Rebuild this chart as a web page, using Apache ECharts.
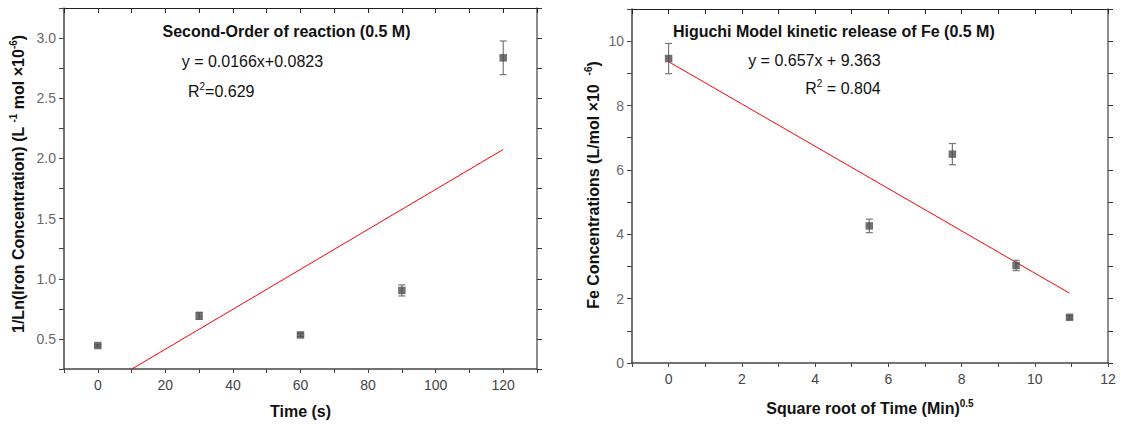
<!DOCTYPE html>
<html>
<head>
<meta charset="utf-8">
<title>Iron kinetics</title>
<script src="https://cdn.jsdelivr.net/npm/echarts@6/dist/echarts.min.js"></script>
<style>
  html, body { margin: 0; padding: 0; background: #fff; }
  #chart { width: 1121px; height: 425px; }
</style>
</head>
<body>
<div id="chart"></div>
<script>
// Second-order plot: time (s) vs 1/Ln(iron concentration)
const timeSec = [0, 30, 60, 90, 120];
const invLnIron = [0.445, 0.692, 0.533, 0.903, 2.836];
const invLnIronErr = [0.010, 0.030, 0.014, 0.046, 0.140];
const secondOrderSlope = 0.0166;
const secondOrderIntercept = 0.0823;
const secondOrderR2 = '0.629';

// Higuchi plot: square root of time (min^0.5) vs Fe concentration
const sqrtTimeMin = [0, 5.48, 7.75, 9.49, 10.95];
const feConc = [9.46, 4.26, 6.49, 3.03, 1.42];
const feConcErr = [0.47, 0.21, 0.33, 0.16, 0.05];
const higuchiSlope = -0.657;
const higuchiIntercept = 9.363;
const higuchiR2 = '0.804';

// Tick label sets
const leftXLabels = [0, 20, 40, 60, 80, 100, 120];
const leftYLabels = [0.5, 1.0, 1.5, 2.0, 2.5, 3.0];
const rightXLabels = [0, 2, 4, 6, 8, 10, 12];
const rightYLabels = [0, 2, 4, 6, 8, 10];

const FONT = '"Liberation Sans", Arial, sans-serif';
const AXIS_COLOR = '#444';

function pick(list, digits) {
  return function (v) {
    for (const t of list) {
      if (Math.abs(v - t) < 1e-6) return digits ? t.toFixed(digits) : String(t);
    }
    return '';
  };
}

function bottomAxis(grid, min, max, interval, labels) {
  return {
    type: 'value', gridIndex: grid, position: 'bottom',
    min: min, max: max, interval: interval,
    axisLine: { onZero: false, lineStyle: { color: AXIS_COLOR, width: 1.5 } },
    axisTick: { inside: false, length: 4, lineStyle: { color: AXIS_COLOR, width: 1 } },
    axisLabel: { formatter: pick(labels, 0), color: '#444', fontSize: 14, fontFamily: FONT, margin: 9 },
    splitLine: { show: false }
  };
}

function topAxis(grid, min, max, interval) {
  return {
    type: 'value', gridIndex: grid, position: 'top',
    min: min, max: max, interval: interval,
    axisLine: { onZero: false, lineStyle: { color: '#222', width: 1 } },
    axisTick: { inside: true, length: 5, lineStyle: { color: '#222', width: 1 } },
    axisLabel: { show: false },
    splitLine: { show: false }
  };
}

function leftAxis(grid, min, max, interval, labels, digits) {
  return {
    type: 'value', gridIndex: grid, position: 'left',
    min: min, max: max, interval: interval,
    axisLine: { show: true, onZero: false, lineStyle: { color: AXIS_COLOR, width: 1.5 } },
    axisTick: { show: true, inside: false, length: 5, lineStyle: { color: AXIS_COLOR, width: 1 } },
    axisLabel: { formatter: pick(labels, digits), color: '#6a6a6a', fontSize: 14, fontFamily: FONT, margin: 8 },
    splitLine: { show: false }
  };
}

function rightAxis(grid, min, max, interval) {
  return {
    type: 'value', gridIndex: grid, position: 'right',
    min: min, max: max, interval: interval,
    axisLine: { show: true, onZero: false, lineStyle: { color: '#666', width: 1.5 } },
    axisTick: { show: true, inside: false, length: 5, lineStyle: { color: '#333', width: 1 } },
    axisLabel: { show: false },
    splitLine: { show: false }
  };
}

function zip(xs, ys) { return xs.map((x, i) => [x, ys[i]]); }

function errorBars(xAxisIndex, yAxisIndex, xs, ys, errs) {
  return {
    type: 'custom', xAxisIndex: xAxisIndex, yAxisIndex: yAxisIndex, z: 3,
    data: xs.map((x, i) => [x, ys[i] - errs[i], ys[i] + errs[i]]),
    renderItem: function (params, api) {
      const lo = api.coord([api.value(0), api.value(1)]);
      const hi = api.coord([api.value(0), api.value(2)]);
      const half = 3.5;
      const style = { stroke: '#777', lineWidth: 1.2, fill: null };
      return {
        type: 'group',
        children: [
          { type: 'line', shape: { x1: lo[0], y1: lo[1], x2: hi[0], y2: hi[1] }, style: style },
          { type: 'line', shape: { x1: lo[0] - half, y1: lo[1], x2: lo[0] + half, y2: lo[1] }, style: style },
          { type: 'line', shape: { x1: hi[0] - half, y1: hi[1], x2: hi[0] + half, y2: hi[1] }, style: style }
        ]
      };
    }
  };
}

function points(xAxisIndex, yAxisIndex, xs, ys) {
  return {
    type: 'scatter', xAxisIndex: xAxisIndex, yAxisIndex: yAxisIndex, z: 4,
    symbol: 'rect', symbolSize: 7.5,
    itemStyle: { color: '#4d4d4d' },
    data: zip(xs, ys)
  };
}

function fitLine(xAxisIndex, yAxisIndex, x0, x1, slope, intercept) {
  return {
    type: 'line', xAxisIndex: xAxisIndex, yAxisIndex: yAxisIndex, z: 2,
    clip: true, showSymbol: false, symbol: 'none', silent: true,
    lineStyle: { color: '#ff0000', width: 1 },
    data: [[x0, slope * x0 + intercept], [x1, slope * x1 + intercept]]
  };
}

const textBase = { fontFamily: FONT, fill: '#111' };
const supRich = {
  n: { fontFamily: FONT, fontSize: 16, fill: '#111', lineHeight: 20 },
  sup: { fontFamily: FONT, fontSize: 10, fill: '#111', verticalAlign: 'top', lineHeight: 20, padding: [0, 0, 8, 0] },
  b: { fontFamily: FONT, fontSize: 16, fontWeight: 'bold', fill: '#111', lineHeight: 20 },
  bsup: { fontFamily: FONT, fontSize: 10, fontWeight: 'bold', fill: '#111', verticalAlign: 'top', lineHeight: 20, padding: [0, 0, 8, 0] }
};

function label(x, y, text, align, bold) {
  return {
    type: 'text', x: x, y: y, z: 10,
    style: Object.assign({}, textBase, {
      text: text, rich: supRich, align: align, verticalAlign: 'middle',
      fontSize: 16, fontWeight: bold ? 'bold' : 'normal'
    })
  };
}

function verticalTitle(x, y, text) {
  return {
    type: 'text', x: x, y: y, rotation: Math.PI / 2, z: 10,
    style: Object.assign({}, textBase, {
      text: text, rich: supRich, align: 'center', verticalAlign: 'middle',
      fontSize: 16, fontWeight: 'bold'
    })
  };
}

const leftEq = 'y = ' + String(secondOrderSlope) + 'x+' + String(secondOrderIntercept);
const rightEq = 'y = ' + String(Math.abs(higuchiSlope)) + 'x + ' + String(higuchiIntercept);

const chart = echarts.init(document.getElementById('chart'), null, { renderer: 'svg' });
chart.setOption({
  animation: false,
  backgroundColor: '#fff',
  textStyle: { fontFamily: FONT },
  grid: [
    { left: 64, top: 8, width: 473, height: 361 },
    { left: 632, top: 9, width: 476, height: 354 }
  ],
  xAxis: [
    bottomAxis(0, -10, 130, 10, leftXLabels),
    topAxis(0, -10, 130, 10),
    bottomAxis(1, -1, 12, 1, rightXLabels),
    topAxis(1, -1, 12, 1)
  ],
  yAxis: [
    leftAxis(0, 0.25, 3.25, 0.25, leftYLabels, 1),
    rightAxis(0, 0.25, 3.25, 0.25),
    leftAxis(1, 0, 11, 1, rightYLabels, 0),
    rightAxis(1, 0, 11, 1)
  ],
  series: [
    fitLine(0, 0, timeSec[0], timeSec[timeSec.length - 1], secondOrderSlope, secondOrderIntercept),
    errorBars(0, 0, timeSec, invLnIron, invLnIronErr),
    points(0, 0, timeSec, invLnIron),
    fitLine(2, 2, sqrtTimeMin[0], sqrtTimeMin[sqrtTimeMin.length - 1], higuchiSlope, higuchiIntercept),
    errorBars(2, 2, sqrtTimeMin, feConc, feConcErr),
    points(2, 2, sqrtTimeMin, feConc)
  ],
  graphic: [
    label(286.5, 31.7, 'Second-Order of reaction (0.5 M)', 'center', true),
    label(181.7, 61.7, leftEq, 'left', false),
    label(188, 91.7, '{n|R}{sup|2}{n|=' + secondOrderR2 + '}', 'left', false),
    verticalTitle(18.3, 184, '{b|1/Ln(Iron Concentration) (L }{bsup|-1}{b| mol ×10}{bsup|-6}{b|)}'),
    label(300.5, 411, '{b|Time (s)}', 'center', true),
    label(833.8, 31, 'Higuchi Model kinetic release of Fe (0.5 M)', 'center', true),
    label(880.7, 60.7, rightEq, 'right', false),
    label(880.7, 88.3, '{n|R}{sup|2}{n| = ' + higuchiR2 + '}', 'right', false),
    verticalTitle(593.3, 185, '{b|Fe Concentrations (L/mol ×10  }{bsup|-6}{b|)}'),
    label(870, 408.5, '{b|Square root of Time (Min)}{bsup|0.5}', 'center', true)
  ]
});
</script>
</body>
</html>
